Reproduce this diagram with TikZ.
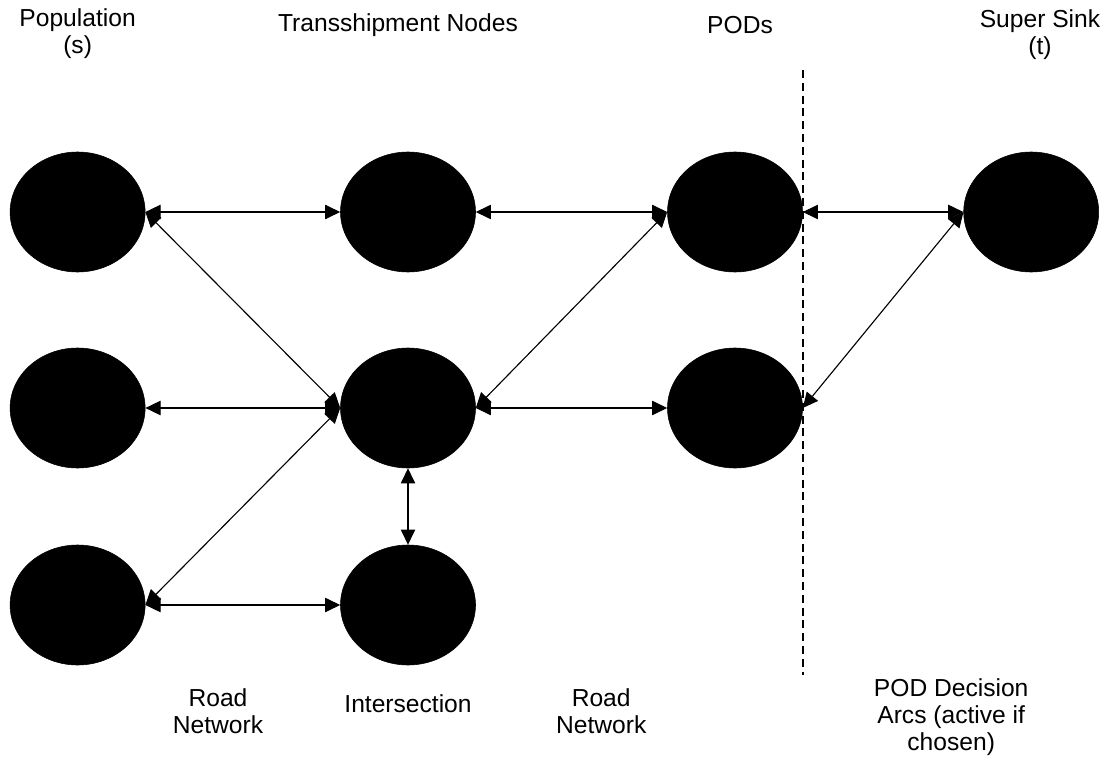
\documentclass[tikz,border=0pt]{standalone}
\usepackage{fontspec}
\setmainfont{Liberation Sans}
\usetikzlibrary{arrows.meta,shapes}

\begin{document}
\begin{tikzpicture}[
    blob/.style={ellipse,fill=black,draw=black,minimum width=3.375cm,minimum height=3cm,inner sep=0pt},
    lbl/.style={align=center,font=\fontsize{17.5}{19.2}\selectfont},
    arc/.style={{Triangle[length=0.38cm,width=0.36cm]}-{Triangle[length=0.38cm,width=0.36cm]},line width=0.8pt}]
            \useasboundingbox (0,0) rectangle (27.65,-19.025);
            \node[blob] (pop1) at (1.94,-5.3) {};
            \node[blob] (pop2) at (1.94,-10.2) {};
            \node[blob] (pop3) at (1.94,-15.125) {};
            \node[blob] (tr1) at (10.2,-5.3) {};
            \node[blob] (tr2) at (10.2,-10.2) {};
            \node[blob] (inter) at (10.2,-15.125) {};
            \node[blob] (pod1) at (18.375,-5.3) {};
            \node[blob] (pod2) at (18.375,-10.2) {};
            \node[blob] (sink) at (25.78,-5.3) {};
            \node[lbl] (poptxt) at (1.94,-0.84) {Population\\(s)};
            \node[lbl] (trtxt) at (9.95,-0.62) {Transshipment Nodes};
            \node[lbl] (podtxt) at (18.5,-0.62) {PODs};
            \node[lbl] (sinktxt) at (26.0,-0.87) {Super Sink\\(t)};
            \node[lbl] (road1) at (5.45,-17.78) {Road\\Network};
            \node[lbl] (intertxt) at (10.2,-17.58) {Intersection};
            \node[lbl] (road2) at (15.03,-17.78) {Road\\Network};
            \node[lbl] (dectxt) at (23.78,-17.92) {POD Decision\\Arcs (active if\\chosen)};
            \coordinate (cuttop) at (20.075,-1.75);
            \coordinate (cutbot) at (20.075,-16.875);
            \draw[line width=0.8pt,dash pattern=on 0.2cm off 0.12cm] (cuttop)--(cutbot);
            \draw[arc] (pop1.east)--(tr1.west);
            \draw[arc] (pop1.east)--(tr2.west);
            \draw[arc] (pop2.east)--(tr2.west);
            \draw[arc] (pop3.east)--(tr2.west);
            \draw[arc] (pop3.east)--(inter.west);
            \draw[arc] (tr2.south)--(inter.north);
            \draw[arc] (tr1.east)--(pod1.west);
            \draw[arc] (tr2.east)--(pod1.west);
            \draw[arc] (tr2.east)--(pod2.west);
            \draw[arc] (pod1.east)--(sink.west);
            \draw[arc] (pod2.east)--(sink.west);
        \end{tikzpicture}
\end{document}
